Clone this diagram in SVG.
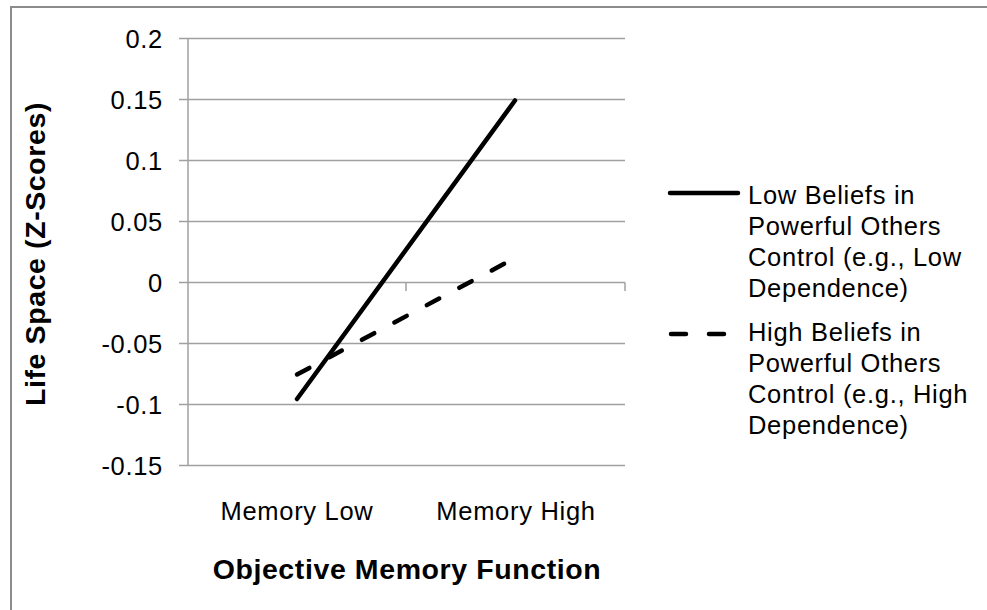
<svg xmlns="http://www.w3.org/2000/svg" width="987" height="610" viewBox="0 0 987 610">
  <style>
    .frame { fill: #ffffff; stroke: #8c8c8c; stroke-width: 2; }
    .grid { stroke: #a0a0a0; stroke-width: 1.5; fill: none; }
    .tick { font-family: "Liberation Sans", Arial, sans-serif; font-size: 25.5px; fill: #000; letter-spacing: 0.7px; }
    .title { font-family: "Liberation Sans", Arial, sans-serif; font-size: 28.5px; font-weight: bold; fill: #000; letter-spacing: 0.6px; }
    .legend { font-family: "Liberation Sans", Arial, sans-serif; font-size: 25.5px; fill: #000; letter-spacing: 0.7px; }
    .solid { stroke: #000; stroke-width: 4.5; stroke-linecap: round; fill: none; }
    .dashed { stroke: #000; stroke-width: 4.5; stroke-linecap: round; fill: none; }
  </style>

  <!-- chart frame -->
  <rect class="frame" x="11" y="7" width="990" height="620"/>

  <!-- horizontal gridlines with left tick stubs -->
  <g id="gridlines">
    <line class="grid" x1="179" y1="38.5" x2="625" y2="38.5"/>
    <line class="grid" x1="179" y1="99.5" x2="625" y2="99.5"/>
    <line class="grid" x1="179" y1="160.5" x2="625" y2="160.5"/>
    <line class="grid" x1="179" y1="221.5" x2="625" y2="221.5"/>
    <line class="grid" x1="179" y1="282.5" x2="625" y2="282.5"/>
    <line class="grid" x1="179" y1="343.5" x2="625" y2="343.5"/>
    <line class="grid" x1="179" y1="404.5" x2="625" y2="404.5"/>
    <line class="grid" x1="179" y1="465.5" x2="625" y2="465.5"/>
  </g>

  <!-- axes -->
  <g id="axes">
    <line class="grid" x1="188" y1="38.5" x2="188" y2="465.5"/>
    <line class="grid" x1="406" y1="282.5" x2="406" y2="291"/>
    <line class="grid" x1="625" y1="282.5" x2="625" y2="291"/>
  </g>

  <!-- y tick labels -->
  <g id="y-labels" class="tick" text-anchor="end">
    <text x="163" y="47.5">0.2</text>
    <text x="163" y="108.5">0.15</text>
    <text x="163" y="169.5">0.1</text>
    <text x="163" y="230.5">0.05</text>
    <text x="163" y="291.5">0</text>
    <text x="163" y="352.5">-0.05</text>
    <text x="163" y="413.5">-0.1</text>
    <text x="163" y="474.5">-0.15</text>
  </g>

  <!-- category labels -->
  <g id="x-labels" class="tick" text-anchor="middle">
    <text x="297" y="520">Memory Low</text>
    <text x="516" y="520">Memory High</text>
  </g>

  <!-- axis titles -->
  <g id="axis-titles" class="title" text-anchor="middle">
    <text x="407" y="579">Objective Memory Function</text>
    <text transform="translate(45,254) rotate(-90)">Life Space (Z-Scores)</text>
  </g>

  <!-- data series -->
  <g id="series">
    <line id="series-low" class="solid" x1="297" y1="399" x2="515" y2="100.5"/>
    <line id="series-high" class="dashed" x1="297" y1="374.5" x2="515" y2="258" stroke-dasharray="14 22.8"/>
  </g>

  <!-- legend -->
  <g id="legend-low">
    <line class="solid" x1="670" y1="193" x2="738" y2="193"/>
    <text class="legend" x="748" y="204">Low Beliefs in</text>
    <text class="legend" x="748" y="235">Powerful Others</text>
    <text class="legend" x="748" y="266">Control (e.g., Low</text>
    <text class="legend" x="748" y="297">Dependence)</text>
  </g>
  <g id="legend-high">
    <line class="dashed" x1="671" y1="334" x2="740" y2="334" stroke-dasharray="15 23"/>
    <text class="legend" x="748" y="341">High Beliefs in</text>
    <text class="legend" x="748" y="372">Powerful Others</text>
    <text class="legend" x="748" y="403">Control (e.g., High</text>
    <text class="legend" x="748" y="434">Dependence)</text>
  </g>
</svg>
